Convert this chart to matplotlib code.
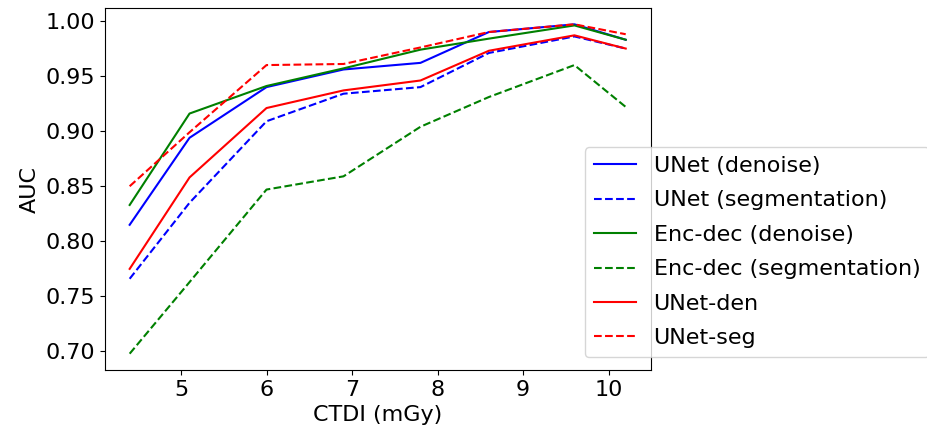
import matplotlib
matplotlib.use('Agg')
import matplotlib.pyplot as plt

ctdi = [4.4, 5.1, 6.0, 6.9, 7.8, 8.6, 9.6, 10.2]

unet_den = [0.815, 0.894, 0.940, 0.956, 0.962, 0.990, 0.997, 0.983]
unet_seg = [0.766, 0.835, 0.909, 0.934, 0.940, 0.971, 0.986, 0.975]
encdec_den = [0.833, 0.916, 0.941, 0.957, 0.974, 0.984, 0.996, 0.983]
encdec_seg = [0.698, 0.763, 0.847, 0.859, 0.904, 0.931, 0.960, 0.922]
unetden = [0.775, 0.858, 0.921, 0.937, 0.946, 0.973, 0.987, 0.975]
unetseg = [0.850, 0.899, 0.960, 0.961, 0.976, 0.990, 0.997, 0.988]

labels = ['UNet (denoise)', 'UNet (segmentation)', 'Enc-dec (denoise)',
          'Enc-dec (segmentation)', 'UNet-den', 'UNet-seg']

fig = plt.figure(figsize=(9.28, 4.36), dpi=100)
ax = fig.add_axes([0.113, 0.151, 0.588, 0.831])

ax.plot(ctdi, unet_den, 'b-', lw=1.5, label=labels[0])
ax.plot(ctdi, unet_seg, 'b--', lw=1.5, label=labels[1])
ax.plot(ctdi, encdec_den, 'g-', lw=1.5, label=labels[2])
ax.plot(ctdi, encdec_seg, 'g--', lw=1.5, label=labels[3])
ax.plot(ctdi, unetden, 'r-', lw=1.5, label=labels[4])
ax.plot(ctdi, unetseg, 'r--', lw=1.5, label=labels[5])

ax.set_xticks([5, 6, 7, 8, 9, 10])
ax.set_yticks([0.70, 0.75, 0.80, 0.85, 0.90, 0.95, 1.00])
ax.tick_params(labelsize=16)
ax.set_xlabel('CTDI (mGy)', fontsize=16)
ax.set_ylabel('AUC', fontsize=16)

fig.legend(loc='upper left', bbox_to_anchor=(0.618, 0.688), fontsize=16,
           labelspacing=0.65, handlelength=1.9)

plt.savefig('out.png', dpi=100)
